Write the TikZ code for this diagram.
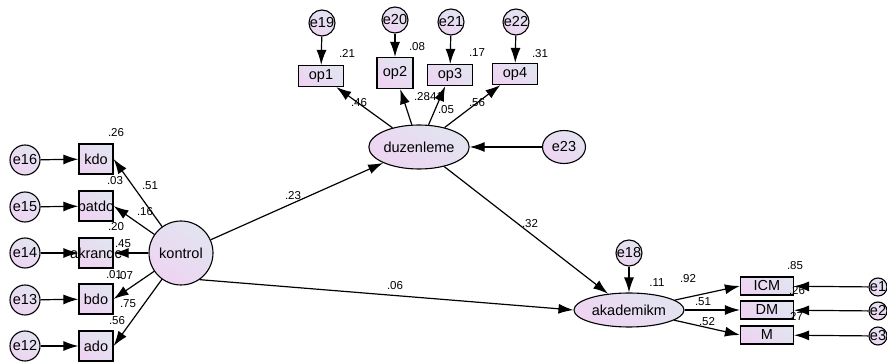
\documentclass[tikz,border=0pt]{standalone}
\usepackage{fontspec}
\setmainfont{Liberation Sans}
\usetikzlibrary{arrows.meta,shapes.geometric}
\definecolor{fillA}{HTML}{E2E4F0}
\definecolor{fillB}{HTML}{EED4F2}
\tikzset{
  shade/.style={shading=axis, top color=fillA, bottom color=fillB, shading angle=-35},
  nodefont/.style={font=\fontsize{14.5}{16}\selectfont},
  obs/.style={draw, line width=1.2pt, shade, rectangle, inner sep=0pt, nodefont},
  err/.style={draw, line width=1.1pt, shade, circle, inner sep=0pt, minimum size=28pt, nodefont},
  lat/.style={draw, line width=1.1pt, shade, ellipse, inner sep=0pt, nodefont},
  num/.style={font=\fontsize{11.5}{13}\selectfont, inner sep=0pt},
  arr/.style={-{Latex[length=15pt,width=10pt]}, line width=1.2pt},
}
\newcommand{\ztext}[1]{\makebox[0pt][c]{#1}}
\begin{document}
\begin{tikzpicture}[x=1pt,y=-1pt]
\useasboundingbox (0,0) rectangle (887,363);
% left observed
\node[obs, minimum width=34pt, minimum height=30pt] (kdo) at (96,159) {\ztext{kdo}};
\node[obs, minimum width=34pt, minimum height=30pt] (batdo) at (96,206) {\ztext{batdo}};
\node[obs, minimum width=34pt, minimum height=30pt] (akrandc) at (96,253) {\ztext{akrandc}};
\node[obs, minimum width=34pt, minimum height=30pt] (bdo) at (96,299) {\ztext{bdo}};
\node[obs, minimum width=34pt, minimum height=30pt] (ado) at (96,346) {\ztext{ado}};
\node[err, minimum size=30pt] (e16) at (25,160) {e16};
\node[err, minimum size=30pt] (e15) at (25,207) {e15};
\node[err, minimum size=30pt] (e14) at (25,253) {e14};
\node[err, minimum size=30pt] (e13) at (25,300) {e13};
\node[err, minimum size=30pt] (e12) at (25,346) {e12};
\node[lat, circle, minimum size=64pt] (kontrol) at (181,253) {kontrol};
% top
\node[obs, minimum width=45pt, minimum height=21pt] (op1) at (321,76) {op1};
\node[obs, minimum width=36pt, minimum height=31pt] (op2) at (395,73) {op2};
\node[obs, minimum width=45pt, minimum height=21pt] (op3) at (450,75) {op3};
\node[obs, minimum width=45pt, minimum height=21pt] (op4) at (515,74) {op4};
\node[err, minimum size=26pt] (e19) at (322,23) {\ztext{e19}};
\node[err, minimum size=26pt] (e20) at (395,20) {\ztext{e20}};
\node[err, minimum size=26pt] (e21) at (451,22) {\ztext{e21}};
\node[err, minimum size=26pt] (e22) at (516,22) {\ztext{e22}};
\node[lat, minimum width=94pt, minimum height=44pt] (duz) at (419,147) {duzenleme};
\node[lat, minimum width=43pt, minimum height=33pt] (e23) at (564,147) {e23};
% bottom right
\node[lat, minimum width=110pt, minimum height=34pt] (akad) at (629,310) {akademikm};
\node[err, minimum size=26pt] (e18) at (629,253) {\ztext{e18}};
\node[obs, minimum width=53pt, minimum height=18pt] (ICM) at (767,286) {ICM};
\node[obs, minimum width=53pt, minimum height=18pt] (DM) at (767,310) {DM};
\node[obs, minimum width=53pt, minimum height=18pt] (M) at (767,335) {M};
\node[err, minimum size=18pt] (e1) at (878,287) {\ztext{e1}};
\node[err, minimum size=18pt] (e2) at (878,311) {\ztext{e2}};
\node[err, minimum size=18pt] (e3) at (878,336) {\ztext{e3}};
% arrows
\foreach \e/\b in {e16/kdo,e15/batdo,e14/akrandc,e13/bdo,e12/ado}{\draw[arr] (\e) -- (\b);}
\foreach \b in {kdo,batdo,akrandc,bdo,ado}{\draw[arr] (kontrol) -- (\b.east);}
\foreach \e/\b in {e19/op1,e20/op2,e21/op3,e22/op4}{\draw[arr] (\e) -- (\b);}
\foreach \b in {op1,op2,op3,op4}{\draw[arr] (duz) -- (\b);}
\draw[arr] (e23) -- (duz);
\draw[arr] (kontrol) -- (duz);
\draw[arr] (kontrol.-55) -- (akad.west);
\draw[arr] (duz) -- (akad);
\draw[arr] (e18) -- (akad);
\draw[arr] (akad) -- (ICM.west);
\draw[arr] (akad) -- (DM.west);
\draw[arr] (akad) -- (M.west);
\draw[arr] (e1) -- (ICM);
\draw[arr] (e2) -- (DM);
\draw[arr] (e3) -- (M);
% numbers
\node[num] (n1) at (116,133) {.26};
\node[num] (n2) at (115,181) {.03};
\node[num] (n3) at (150,186) {.51};
\node[num] (n4) at (145,212) {.16};
\node[num] (n5) at (116,227) {.20};
\node[num] (n6) at (123,244) {.45};
\node[num] (n7) at (114,275) {.01};
\node[num] (n8) at (125,276) {.07};
\node[num] (n9) at (128,304) {.75};
\node[num] (n10) at (117,321) {.56};
\node[num] (n11) at (347,53) {.21};
\node[num] (n12) at (417,47) {.08};
\node[num] (n13) at (477,53) {.17};
\node[num] (n14) at (540,54) {.31};
\node[num] (n15) at (359,103) {.46};
\node[num] (n16) at (422,97) {.28};
\node[num] (n17) at (435,97) {.41};
\node[num] (n18) at (446,110) {.05};
\node[num] (n19) at (477,103) {.56};
\node[num] (n20) at (293,196) {.23};
\node[num] (n21) at (530,224) {.32};
\node[num] (n22) at (395,286) {.06};
\node[num] (n23) at (657,283) {.11};
\node[num] (n24) at (688,279) {.92};
\node[num] (n25) at (795,266) {.85};
\node[num] (n26) at (797,291) {.26};
\node[num] (n27) at (703,302) {.51};
\node[num] (n28) at (795,316) {.27};
\node[num] (n29) at (707,322) {.52};
\end{tikzpicture}
\end{document}
